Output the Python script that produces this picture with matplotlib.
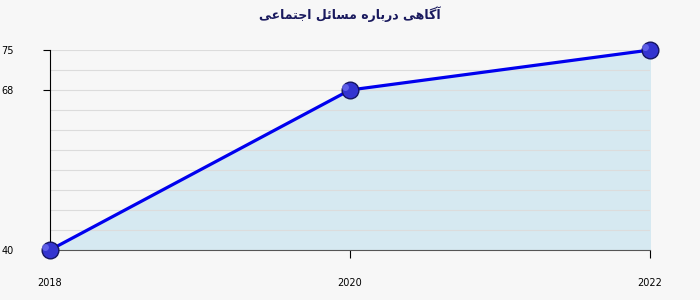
import matplotlib
matplotlib.use("Agg")
import matplotlib.pyplot as plt
import numpy as np

years = [2018, 2020, 2022]
values = [40, 68, 75]
y_ticks = [40, 68, 75]
title = "آگاهی درباره مسائل اجتماعی"

# simple arabic/persian shaping: letter -> (isolated, final, initial, medial)
FORMS = {
    "آ": ("\uFE81", "\uFE82", None, None),
    "ا": ("\uFE8D", "\uFE8E", None, None),
    "د": ("\uFEA9", "\uFEAA", None, None),
    "ر": ("\uFEAD", "\uFEAE", None, None),
    "گ": ("\uFB92", "\uFB93", "\uFB94", "\uFB95"),
    "ه": ("\uFEE9", "\uFEEA", "\uFEEB", "\uFEEC"),
    "ی": ("\uFBFC", "\uFBFD", "\uFBFE", "\uFBFF"),
    "ب": ("\uFE8F", "\uFE90", "\uFE91", "\uFE92"),
    "م": ("\uFEE1", "\uFEE2", "\uFEE3", "\uFEE4"),
    "س": ("\uFEB1", "\uFEB2", "\uFEB3", "\uFEB4"),
    "ئ": ("\uFE89", "\uFE8A", "\uFE8B", "\uFE8C"),
    "ل": ("\uFEDD", "\uFEDE", "\uFEDF", "\uFEE0"),
    "ج": ("\uFE9D", "\uFE9E", "\uFE9F", "\uFEA0"),
    "ت": ("\uFE95", "\uFE96", "\uFE97", "\uFE98"),
    "ع": ("\uFEC9", "\uFECA", "\uFECB", "\uFECC"),
}


def joins_left(c):
    return c in FORMS and FORMS[c][2] is not None


def shape(text):
    out = []
    for i, c in enumerate(text):
        if c not in FORMS:
            out.append(c)
            continue
        prev = text[i - 1] if i > 0 else " "
        nxt = text[i + 1] if i + 1 < len(text) else " "
        a = joins_left(prev)
        b = joins_left(c) and nxt in FORMS
        iso, fin, ini, med = FORMS[c]
        if a and b:
            out.append(med)
        elif a:
            out.append(fin)
        elif b:
            out.append(ini)
        else:
            out.append(iso)
    return "".join(out)[::-1]


bg = "#f7f7f7"
fig = plt.figure(figsize=(7, 3), dpi=100, facecolor=bg)
ax = fig.add_axes([50 / 700, 50 / 300, 600 / 700, 200 / 300])
ax.set_facecolor(bg)

ax.set_xlim(2018, 2022)
ax.set_ylim(40, 75)

ax.fill_between(years, values, 40, color="#d6e9f1", zorder=1)
ax.plot(years, values, color="#0000ee", lw=2.3, zorder=3, clip_on=False)
ax.plot(years, values, "o", ms=12, mfc="#3434d0", mec="#151560", mew=1.0,
        zorder=4, clip_on=False)
ax.plot([x - 0.035 for x in years], [v + 0.6 for v in values], "o", ms=5,
        mfc="#6a6af0", mec="none", alpha=0.8, zorder=5, clip_on=False)

ax.set_yticks(y_ticks)
ax.set_yticks(np.arange(40, 75.1, 3.5), minor=True)
ax.grid(True, which="minor", axis="y", color="#dcdcdc", lw=0.8, zorder=0)
ax.grid(True, which="major", axis="y", color="#dcdcdc", lw=0.8, zorder=0)
ax.set_xticks(years)
ax.set_xticklabels([str(y) for y in years])

ax.tick_params(axis="y", which="major", length=5, color="black", pad=21,
               labelsize=7)
ax.tick_params(axis="y", which="minor", length=0)
ax.tick_params(axis="x", length=6, color="black", pad=14, labelsize=7)
for lab in ax.get_yticklabels():
    lab.set_va("center_baseline")

for s in ["top", "right"]:
    ax.spines[s].set_visible(False)
ax.spines["left"].set_color("black")
ax.spines["bottom"].set_color("#555555")

fig.text(0.5, 0.953, shape(title), ha="center", va="center", fontsize=9,
         color="#1a1a5e", fontweight="bold", family=["DejaVu Sans"])

fig.savefig("out.png", dpi=100, facecolor=bg)
